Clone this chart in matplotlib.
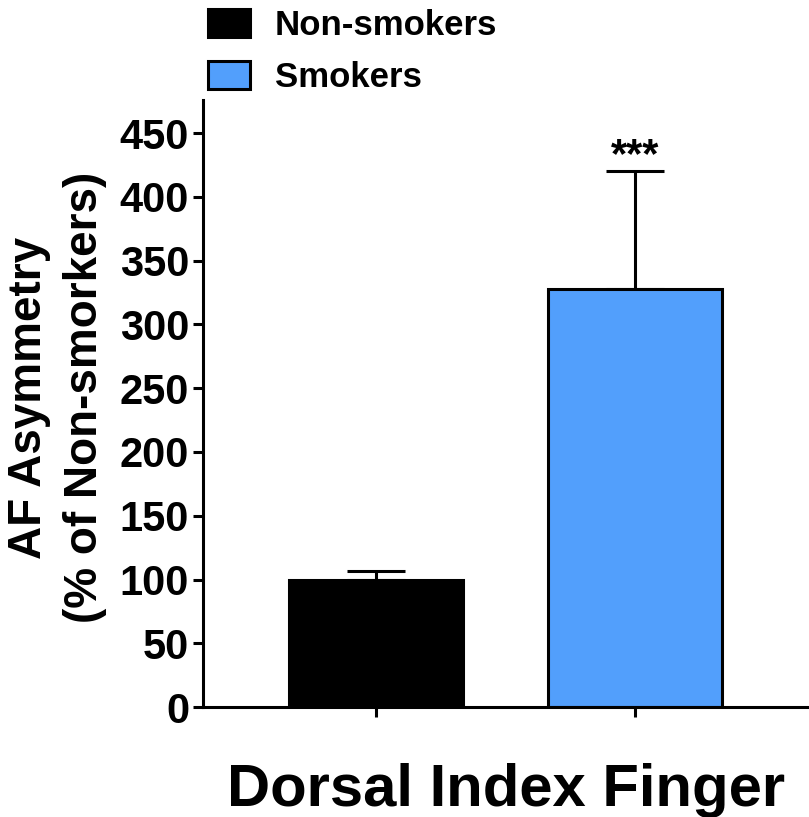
import matplotlib.pyplot as plt
from matplotlib.patches import Patch

plt.rcParams["font.family"] = ["Liberation Sans", "DejaVu Sans"]
plt.rcParams["font.weight"] = "bold"

groups = ["Non-smokers", "Smokers"]
means = [100, 328]
errs = [7, 92]
colors = ["#000000", "#529ffc"]
yticks = [0, 50, 100, 150, 200, 250, 300, 350, 400, 450]

fig = plt.figure(figsize=(8.09, 8.17), dpi=100)
ax = fig.add_axes([0.251, 0.1346, 0.749, 0.743])

x = [0, 1]
for i in range(2):
    ax.bar(x[i], means[i], width=0.672, color=colors[i], edgecolor="black",
           linewidth=2.2, zorder=2)
    ax.errorbar(x[i], means[i], yerr=[[0], [errs[i]]], fmt="none",
                ecolor="black", elinewidth=2.2, capsize=21, capthick=2.2, zorder=1)

# significance mark over the smokers bar
ax.text(1, means[1] + errs[1] + 12, "***", ha="center", va="center",
        fontsize=30, fontweight="bold")

ax.set_xlim(-0.668, 1.672)
ax.set_ylim(0, 476)
ax.set_yticks(yticks)
ax.set_xticks(x)
ax.set_xticklabels([])
ax.tick_params(axis="both", width=2.2, length=7, labelsize=30, direction="out")
ax.tick_params(axis="y", pad=3)
for lab in ax.get_yticklabels():
    lab.set_fontweight("bold")

for s in ["top", "right"]:
    ax.spines[s].set_visible(False)
for s in ["left", "bottom"]:
    ax.spines[s].set_linewidth(2.2)

ax.set_ylabel("AF Asymmetry\n(% of Non-smorkers)", fontsize=33,
              fontweight="bold", linespacing=1.35)
ax.yaxis.set_label_coords(-0.158, 0.51)
ax.set_xlabel("Dorsal Index Finger", fontsize=43, fontweight="bold", labelpad=30)

handles = [Patch(facecolor=c, edgecolor="black", linewidth=2.2) for c in colors]
fig.legend(handles, groups, loc="upper left", bbox_to_anchor=(0.24, 1.006),
           frameon=False, fontsize=25, handlelength=1.22, handleheight=0.86,
           labelspacing=0.55, handletextpad=0.7, borderaxespad=0)

fig.savefig("out.png", dpi=100)
